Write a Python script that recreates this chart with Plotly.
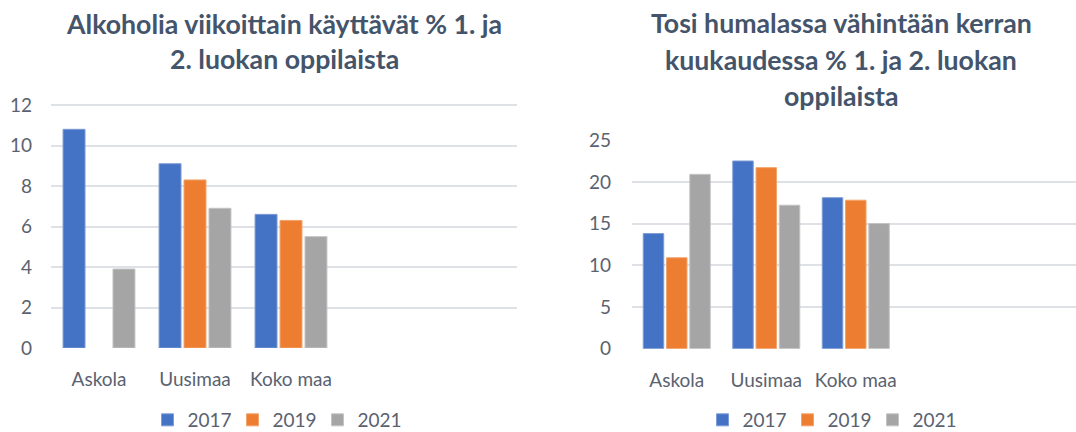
import plotly.graph_objects as go

categories = ["Askola", "Uusimaa", "Koko maa"]
empty_slots = [" ", "  "]
years = ["2017", "2019", "2021"]

# Left chart: Alkoholia viikoittain käyttävät %
left_2017 = [10.8, 9.1, 6.6]
left_2019 = [None, 8.3, 6.3]
left_2021 = [3.9, 6.9, 5.5]

# Right chart: Tosi humalassa vähintään kerran kuukaudessa %
right_2017 = [13.8, 22.5, 18.1]
right_2019 = [10.9, 21.7, 17.8]
right_2021 = [20.9, 17.2, 15.0]

left_title = ["Alkoholia viikoittain käyttävät % 1. ja", "2. luokan oppilaista"]
right_title = ["Tosi humalassa vähintään kerran", "kuukaudessa % 1. ja 2. luokan", "oppilaista"]

colors = ["#4472C4", "#ED7D31", "#A5A5A5"]
edge = ["#7E9CD6", "#F3A36C", "#C4C4C4"]

FONT = "Lato"
TICK_COLOR = "#5A6270"
TITLE_COLOR = "#44546A"
GRID = "#DEE1E6"

fig = go.Figure()

for i, (vals, yr) in enumerate(zip([left_2017, left_2019, left_2021], years)):
    fig.add_trace(go.Bar(x=categories, y=vals, name=yr, marker=dict(color=colors[i], line=dict(color=edge[i], width=1)),
                         xaxis="x", yaxis="y", legend="legend"))
for i, (vals, yr) in enumerate(zip([right_2017, right_2019, right_2021], years)):
    fig.add_trace(go.Bar(x=categories, y=vals, name=yr, marker=dict(color=colors[i], line=dict(color=edge[i], width=1)),
                         xaxis="x2", yaxis="y2", legend="legend2"))

W, H = 1076, 432
def px_x(p): return p / W
def px_y(p): return 1 - p / H

cat_all = categories + empty_slots
axis_common = dict(showline=False, zeroline=False, ticks="",
                   tickfont=dict(family=FONT, size=19, color=TICK_COLOR))
legend_common = dict(orientation="h", yanchor="middle", y=px_y(420),
                     font=dict(family=FONT, size=19, color=TICK_COLOR), itemwidth=30,
                     entrywidth=40, entrywidthmode="pixels", bgcolor="rgba(0,0,0,0)")

fig.update_layout(
    width=W, height=H,
    margin=dict(l=0, r=0, t=0, b=0, autoexpand=False),
    paper_bgcolor="white", plot_bgcolor="white",
    barmode="group", bargap=0.22, bargroupgap=0.12,
    font=dict(family=FONT, color=TICK_COLOR),
    xaxis=dict(domain=[px_x(51), px_x(517)], anchor="y", type="category",
               categoryorder="array", categoryarray=cat_all, range=[-0.5, 4.354],
               showgrid=False, ticklabelstandoff=18, **axis_common),
    yaxis=dict(domain=[px_y(348), px_y(104)], anchor="x", range=[0, 12.05], dtick=2,
               showgrid=True, gridcolor=GRID, gridwidth=1.5, ticklabelstandoff=18, **axis_common),
    xaxis2=dict(domain=[px_x(632), 1.0], anchor="y2", type="category",
                categoryorder="array", categoryarray=cat_all, range=[-0.5, 4.46],
                showgrid=False, ticklabelstandoff=18, **axis_common),
    yaxis2=dict(domain=[px_y(348.7), px_y(139.3)], anchor="x2", range=[0, 25.1], dtick=5,
                showgrid=True, gridcolor=GRID, gridwidth=1.5, ticklabelstandoff=20, **axis_common),
    legend=dict(x=px_x(275), xanchor="center", **legend_common),
    legend2=dict(x=px_x(830), xanchor="center", **legend_common),
)

annotations = []
left_y = [24, 59]
right_y = [23.5, 60.5, 96]
for line, yy in zip(left_title, left_y):
    annotations.append(dict(text=f"<b>{line}</b>", x=px_x(284), y=px_y(yy), xref="paper", yref="paper",
                            xanchor="center", yanchor="middle", showarrow=False,
                            font=dict(family=FONT, size=26.7, color=TITLE_COLOR)))
for line, yy in zip(right_title, right_y):
    annotations.append(dict(text=f"<b>{line}</b>", x=px_x(841), y=px_y(yy), xref="paper", yref="paper",
                            xanchor="center", yanchor="middle", showarrow=False,
                            font=dict(family=FONT, size=26.7, color=TITLE_COLOR)))
fig.update_layout(annotations=annotations)

fig.write_html("out.html", config={"displayModeBar": False},
               post_script="document.body.style.margin='0';document.body.style.overflow='hidden';")
